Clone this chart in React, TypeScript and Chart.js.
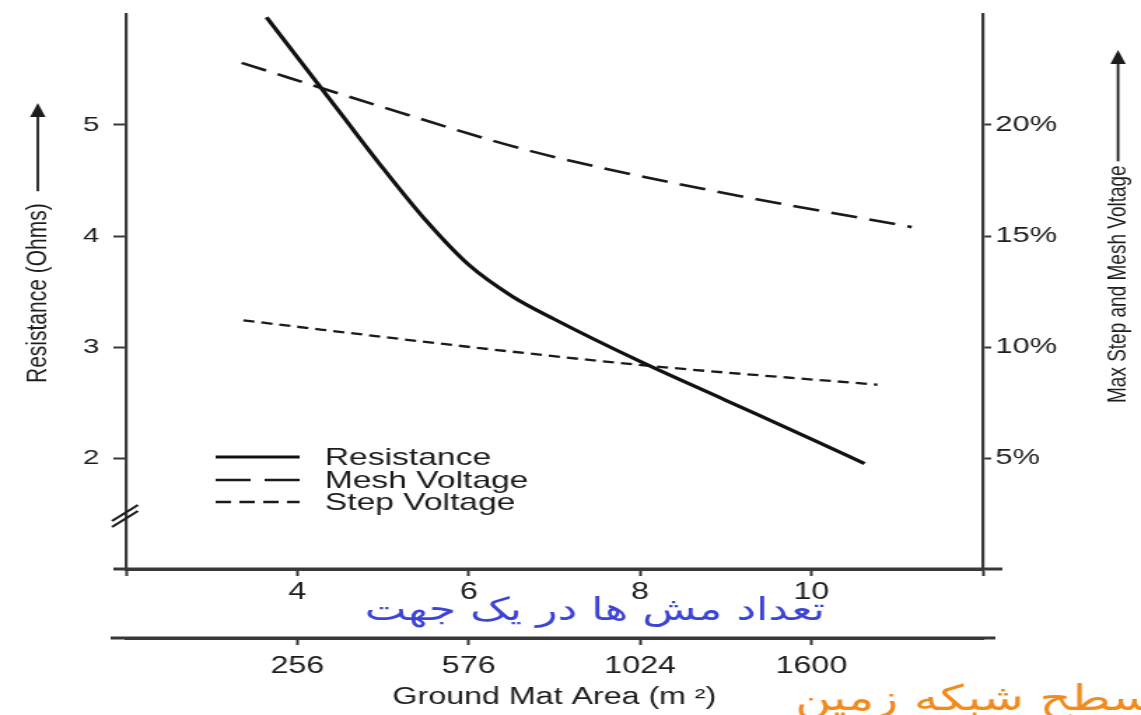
import React, { useEffect, useRef } from 'react';
import { Chart, registerables } from 'chart.js';

Chart.register(...registerables);

// ---------------- data ----------------
const meshTicks = [4, 6, 8, 10];
const areaTickLabels = ['256', '576', '1024', '1600'];
const resistanceTicks = [2, 3, 4, 5];
const voltageTicks = [5, 10, 15, 20];

const meshRange = [2, 12];
const resistanceRange = [1, 6];
const voltageRange = [0, 25];

const resistanceMeshes = [3.64, 4, 4.5, 5, 5.5, 6, 6.5, 7, 8, 9, 10, 10.62];
const resistanceOhms = [5.97, 5.61, 5.11, 4.61, 4.14, 3.74, 3.46, 3.25, 2.87, 2.52, 2.17, 1.95];

const meshVoltageMeshes = [3.35, 5.0, 6.7, 8.7, 11.17];
const meshVoltagePct = [22.8, 20.8, 18.85, 17.15, 15.4];

const stepVoltageMeshes = [3.37, 6.13, 8.11, 10.77];
const stepVoltagePct = [11.2, 9.95, 9.15, 8.3];

const seriesNames = ['Resistance', 'Mesh Voltage', 'Step Voltage'];

const meshCountTitleFa = 'تعداد مش ها در یک جهت';
const gridAreaTitleFa = 'سطح شبکه زمین';
const areaTitle = 'Ground Mat Area (m ²)';
const resistanceTitle = 'Resistance (Ohms)';
const voltageTitle = 'Max Step and Mesh Voltage';

// ---------------- styles ----------------
const W = 1141;
const H = 715;
const SX = 1.4; // the reference picture is stretched horizontally
const CW = Math.round(W / SX);
const INK = '#1c1c1c';
const AXIS = '#383838';
const SANS = '"Liberation Sans", Arial, Helvetica, sans-serif';
const FA = '"DejaVu Sans", sans-serif';

const legendDash = [[], [25, 10], [11, 6]];

function fitSize(ctx: CanvasRenderingContext2D, text: string, family: string, target: number) {
  ctx.font = `20px ${family}`;
  const w = ctx.measureText(text).width || 1;
  return (20 * target) / w;
}

function verticalTitle(
  ctx: CanvasRenderingContext2D,
  text: string,
  cx: number,
  yStart: number,
  tipY: number,
  size: number,
  gap: number
) {
  ctx.save();
  ctx.translate(cx, yStart);
  ctx.rotate(-Math.PI / 2);
  ctx.font = `${size}px ${SANS}`;
  ctx.fillStyle = INK;
  ctx.strokeStyle = INK;
  ctx.textAlign = 'left';
  ctx.textBaseline = 'middle';
  ctx.fillText(text, 0, 0);
  const w = ctx.measureText(text).width;
  const len = yStart - tipY;
  ctx.lineWidth = 1.8;
  ctx.beginPath();
  ctx.moveTo(w + gap, 0);
  ctx.lineTo(len - 10, 0);
  ctx.stroke();
  ctx.beginPath();
  ctx.moveTo(len, 0);
  ctx.lineTo(len - 14, -5.5);
  ctx.lineTo(len - 14, 5.5);
  ctx.closePath();
  ctx.fill();
  ctx.restore();
}

const decorPlugin = {
  id: 'decor',
  afterDraw(chart: any) {
    const ctx: CanvasRenderingContext2D = chart.ctx;
    const { left, right } = chart.chartArea;
    const xs = chart.scales.x;
    const x2 = chart.scales.x2;
    ctx.save();

    // axis line extensions
    ctx.strokeStyle = AXIS;
    ctx.lineWidth = 3;
    ctx.setLineDash([]);
    ctx.beginPath();
    ctx.moveTo(left - 9, xs.top);
    ctx.lineTo(right + 14, xs.top);
    ctx.moveTo(left - 11, x2.top);
    ctx.lineTo(right + 9, x2.top);
    ctx.stroke();

    // axis break marks on the resistance axis
    ctx.lineWidth = 2;
    ctx.strokeStyle = INK;
    ctx.beginPath();
    ctx.moveTo(left - 10, 521);
    ctx.lineTo(left + 8.5, 505);
    ctx.moveTo(left - 10, 527);
    ctx.lineTo(left + 8.5, 511);
    ctx.stroke();

    // legend inside plot
    const rows = [457, 480, 502];
    chart.data.datasets.forEach((ds: any, i: number) => {
      const y = rows[i];
      ctx.strokeStyle = ds.borderColor;
      ctx.lineWidth = ds.borderWidth;
      ctx.setLineDash(legendDash[i]);
      ctx.beginPath();
      ctx.moveTo(154, y);
      ctx.lineTo(214, y);
      ctx.stroke();
      ctx.setLineDash([]);
      ctx.fillStyle = INK;
      ctx.font = `24px ${SANS}`;
      ctx.textAlign = 'left';
      ctx.textBaseline = 'middle';
      ctx.fillText(ds.label, 232, y + 1);
    });

    // axis titles with arrows
    verticalTitle(ctx, resistanceTitle, 27, 383, 103, 21, 12);
    verticalTitle(ctx, voltageTitle, 798.6, 403, 50, 19, 4);

    // Persian captions
    ctx.direction = 'rtl';
    ctx.textBaseline = 'middle';
    const s1 = fitSize(ctx, meshCountTitleFa, FA, 329);
    ctx.font = `${s1}px ${FA}`;
    ctx.fillStyle = '#3b44d4';
    ctx.textAlign = 'center';
    ctx.fillText(meshCountTitleFa, 425, 612);

    const s2 = fitSize(ctx, gridAreaTitleFa, FA, 256);
    ctx.font = `${s2}px ${FA}`;
    ctx.fillStyle = '#f28a1e';
    ctx.textAlign = 'left';
    ctx.direction = 'ltr';
    ctx.fillText(gridAreaTitleFa, 568, 701);

    ctx.restore();
  },
};

function zeroPad(s: any) {
  s.paddingTop = 0;
  s.paddingBottom = 0;
  s.paddingLeft = 0;
  s.paddingRight = 0;
}

export default function App() {
  const ref = useRef<HTMLCanvasElement | null>(null);

  useEffect(() => {
    if (!ref.current) return;
    const toPts = (xs: number[], ys: number[]) => xs.map((x, i) => ({ x, y: ys[i] }));

    const chart = new Chart(ref.current, {
      type: 'line',
      data: {
        datasets: [
          {
            label: seriesNames[0],
            data: toPts(resistanceMeshes, resistanceOhms),
            borderColor: '#111111',
            borderWidth: 3.2,
            pointRadius: 0,
            cubicInterpolationMode: 'monotone',
            yAxisID: 'y',
            xAxisID: 'x',
          },
          {
            label: seriesNames[1],
            data: toPts(meshVoltageMeshes, meshVoltagePct),
            borderColor: '#1a1a1a',
            borderWidth: 2.6,
            borderDash: [19, 9],
            pointRadius: 0,
            cubicInterpolationMode: 'monotone',
            yAxisID: 'y2',
            xAxisID: 'x',
          },
          {
            label: seriesNames[2],
            data: toPts(stepVoltageMeshes, stepVoltagePct),
            borderColor: '#1a1a1a',
            borderWidth: 2.3,
            borderDash: [8, 5],
            pointRadius: 0,
            cubicInterpolationMode: 'monotone',
            yAxisID: 'y2',
            xAxisID: 'x',
          },
        ],
      } as any,
      options: {
        responsive: false,
        animation: false,
        devicePixelRatio: 1,
        events: [],
        layout: { padding: { top: 14, left: 0, right: 0, bottom: 0 } },
        plugins: {
          legend: { display: false },
          tooltip: { enabled: false },
          title: { display: false },
        },
        scales: {
          x: {
            type: 'linear',
            position: 'bottom',
            weight: 0,
            min: meshRange[0],
            max: meshRange[1],
            afterBuildTicks: (s: any) => {
              s.ticks = [meshRange[0], ...meshTicks, meshRange[1]].map((v) => ({ value: v }));
            },
            afterFit: (s: any) => {
              s.height = 69;
              zeroPad(s);
            },
            grid: { drawOnChartArea: false, drawTicks: true, tickLength: 7, color: AXIS, tickWidth: 2 },
            border: { display: true, color: AXIS, width: 3 },
            ticks: {
              autoSkip: false,
              maxRotation: 0,
              padding: 3,
              color: INK,
              font: { family: SANS, size: 23 },
              callback: (v: any) => (meshTicks.includes(Number(v)) ? String(v) : ''),
            },
          },
          x2: {
            type: 'linear',
            position: 'bottom',
            weight: 1,
            min: meshRange[0],
            max: meshRange[1],
            afterBuildTicks: (s: any) => {
              s.ticks = meshTicks.map((v) => ({ value: v }));
            },
            afterFit: (s: any) => {
              s.height = 77;
              zeroPad(s);
            },
            grid: { drawOnChartArea: false, drawTicks: true, tickLength: 7, color: AXIS, tickWidth: 2 },
            border: { display: true, color: AXIS, width: 3 },
            ticks: {
              autoSkip: false,
              maxRotation: 0,
              padding: 8,
              color: INK,
              font: { family: SANS, size: 23 },
              callback: (v: any) => areaTickLabels[meshTicks.indexOf(Number(v))] ?? '',
            },
            title: {
              display: true,
              text: areaTitle,
              color: INK,
              font: { family: SANS, size: 23 },
              padding: { top: 0, bottom: 4 },
            },
          },
          y: {
            type: 'linear',
            position: 'left',
            min: resistanceRange[0],
            max: resistanceRange[1],
            afterBuildTicks: (s: any) => {
              s.ticks = resistanceTicks.map((v) => ({ value: v }));
            },
            afterFit: (s: any) => {
              s.width = 90;
              zeroPad(s);
            },
            grid: { drawOnChartArea: false, drawTicks: true, tickLength: 9, color: AXIS, tickWidth: 2 },
            border: { display: true, color: AXIS, width: 2.2 },
            ticks: {
              padding: 10,
              color: INK,
              font: { family: SANS, size: 21 },
              callback: (v: any) => String(v),
            },
          },
          y2: {
            type: 'linear',
            position: 'right',
            min: voltageRange[0],
            max: voltageRange[1],
            afterBuildTicks: (s: any) => {
              s.ticks = voltageTicks.map((v) => ({ value: v }));
            },
            afterFit: (s: any) => {
              s.width = CW - 702;
              zeroPad(s);
            },
            grid: { drawOnChartArea: false, drawTicks: true, tickLength: 6, color: AXIS, tickWidth: 2 },
            border: { display: true, color: AXIS, width: 2.2 },
            ticks: {
              padding: 3,
              color: INK,
              font: { family: SANS, size: 22 },
              callback: (v: any) => `${v}%`,
            },
          },
        },
      } as any,
      plugins: [decorPlugin as any],
    });

    return () => chart.destroy();
  }, []);

  return (
    <div style={{ position: 'fixed', left: 0, top: 0, width: W, height: H, background: '#ffffff' }}>
      <canvas
        ref={ref}
        width={CW}
        height={H}
        style={{ width: `${W}px`, height: `${H}px`, display: 'block' }}
      />
    </div>
  );
}
